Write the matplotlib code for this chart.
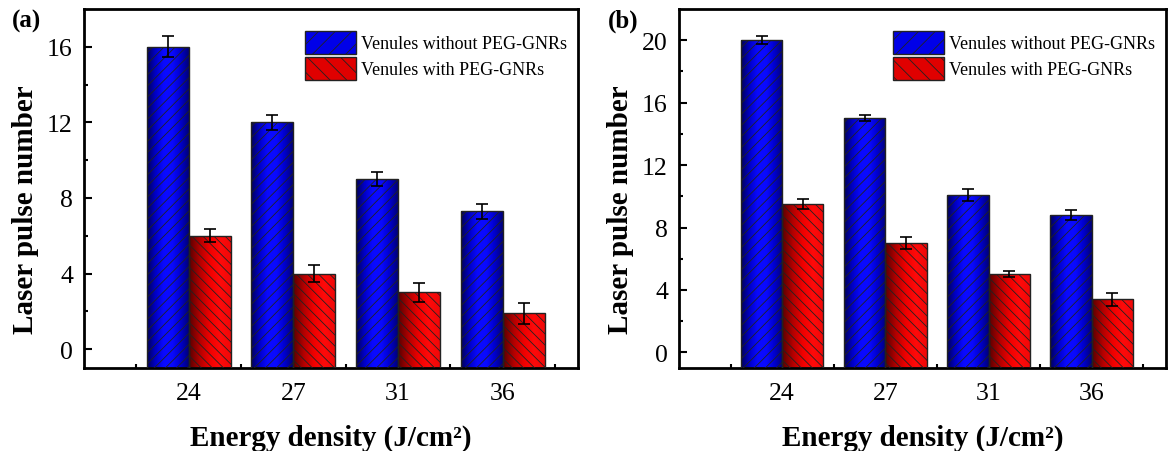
import numpy as np
import matplotlib.pyplot as plt
from matplotlib.colors import LinearSegmentedColormap
from matplotlib.patches import Patch

plt.rcParams['font.family'] = ['Liberation Serif', 'DejaVu Serif']
plt.rcParams['hatch.linewidth'] = 0.6

energy = ['24', '27', '31', '36']
legend_labels = ['Venules without PEG-GNRs', 'Venules with PEG-GNRs']

# panel (a)
a_without = [16.0, 12.0, 9.0, 7.3]
a_without_err = [0.55, 0.4, 0.35, 0.4]
a_with = [6.0, 4.0, 3.0, 1.9]
a_with_err = [0.35, 0.45, 0.5, 0.55]

# panel (b)
b_without = [20.0, 15.0, 10.1, 8.8]
b_without_err = [0.25, 0.2, 0.4, 0.35]
b_with = [9.5, 7.0, 5.0, 3.4]
b_with_err = [0.3, 0.4, 0.2, 0.4]

blue_cmap = LinearSegmentedColormap.from_list(
    'bl', ['#00005a', '#0000c8', '#0a0aff', '#0a0aff', '#0000d0', '#00007a'])
red_cmap = LinearSegmentedColormap.from_list(
    'rd', ['#5a0000', '#b00000', '#f00000', '#ff0a0a', '#f00808'])
grad = np.linspace(0, 1, 64).reshape(1, -1)


def gradient_bars(ax, x, vals, base, width, cmap, hatch):
    bars = ax.bar(x, np.array(vals) - base, width=width, bottom=base,
                  align='edge', facecolor='none', edgecolor='#222222',
                  linewidth=1.0, hatch=hatch, zorder=3)
    for b in bars:
        x0, y0 = b.get_x(), b.get_y()
        im = ax.imshow(grad, cmap=cmap, aspect='auto', zorder=2,
                       extent=[x0, x0 + b.get_width(), y0, y0 + b.get_height()])
        im.set_clip_path(b)
    return bars


def panel(ax, tag, without, without_err, with_, with_err, ylim, yticks):
    x = np.arange(1, len(energy) + 1)
    w = 0.4
    base = ylim[0]
    gradient_bars(ax, x - w, without, base, w, blue_cmap, '///')
    gradient_bars(ax, x, with_, base, w, red_cmap, '\\\\\\')
    ax.errorbar(x - w / 2, without, yerr=without_err, fmt='none', ecolor='black',
                elinewidth=1.2, capsize=4, capthick=1.2, zorder=4)
    ax.errorbar(x + w / 2, with_, yerr=with_err, fmt='none', ecolor='black',
                elinewidth=1.2, capsize=4, capthick=1.2, zorder=4)

    ax.set_xlim(0, 4.72)
    ax.set_ylim(*ylim)
    ax.set_xticks(x)
    ax.set_xticklabels(energy)
    ax.set_xticks(np.arange(0.5, 5, 1), minor=True)
    ax.set_yticks(yticks)
    step = yticks[1] - yticks[0]
    ax.set_yticks(np.arange(yticks[0] + step / 2, ylim[1], step), minor=True)
    ax.tick_params(axis='x', which='major', length=0, labelsize=18.5, pad=10)
    ax.tick_params(axis='x', which='minor', direction='in', length=3, width=1.5)
    ax.tick_params(axis='y', which='major', direction='in', length=6, width=1.5,
                   labelsize=18.5, pad=8)
    ax.tick_params(axis='y', which='minor', direction='in', length=3, width=1.5)
    for s in ax.spines.values():
        s.set_linewidth(2)

    ax.set_ylabel('Laser pulse number', fontsize=21, fontweight='bold',
                  labelpad=6, y=0.445)
    ax.set_xlabel('Energy density (J/cm\u00b2)', fontsize=21,
                  fontweight='bold', labelpad=14)
    ax.text(-0.146, 1.0, tag, transform=ax.transAxes, fontsize=18,
            fontweight='bold', va='top', ha='left')

    handles = [
        Patch(facecolor='#0000e8', edgecolor='#222222', hatch='//', label=legend_labels[0]),
        Patch(facecolor='#e00000', edgecolor='#222222', hatch='\\\\', label=legend_labels[1]),
    ]
    ax.legend(handles=handles, loc='upper right', bbox_to_anchor=(1.0, 0.97),
              frameon=False, fontsize=13, handlelength=2.8, handleheight=1.6,
              handletextpad=0.3, labelspacing=0.15, borderaxespad=0.2)


fig = plt.figure(figsize=(11.68, 4.52), dpi=100)
ax1 = fig.add_axes([84 / 1168, 1 - 369 / 452, 494 / 1168, 359 / 452])
ax2 = fig.add_axes([679 / 1168, 1 - 369 / 452, 487 / 1168, 359 / 452])

panel(ax1, '(a)', a_without, a_without_err, a_with, a_with_err, (-1, 18), [0, 4, 8, 12, 16])
panel(ax2, '(b)', b_without, b_without_err, b_with, b_with_err, (-1, 22), [0, 4, 8, 12, 16, 20])

fig.savefig('out.png', dpi=100)
